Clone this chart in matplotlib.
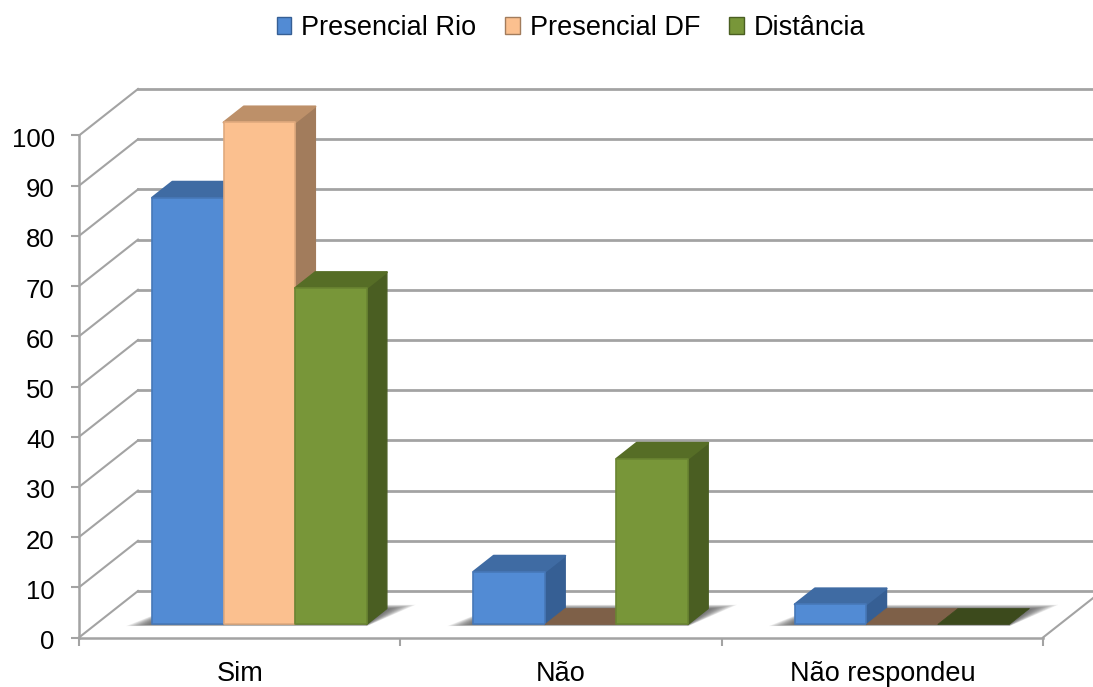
import matplotlib
matplotlib.use("Agg")
import matplotlib.pyplot as plt
from matplotlib.patches import Polygon
from matplotlib.transforms import ScaledTranslation

categories = ["Sim", "Não", "Não respondeu"]
series_names = ["Presencial Rio", "Presencial DF", "Distância"]
presencial_rio = [85, 10.5, 4]
presencial_df = [100, 0, 0]
distancia = [67, 33, 0]
y_ticks = list(range(0, 101, 10))

plt.rcParams['font.family'] = ['Liberation Sans', 'DejaVu Sans']

FRONT = ["#528bd4", "#fbc08f", "#789639"]
EDGE = ["#4778b8", "#e0aa7e", "#6a8532"]
TOP = ["#3f6ba3", "#bd9069", "#566d26"]
SIDE = ["#365f94", "#a27c5c", "#4a5e22"]
FLAT = ["#365f94", "#7e6048", "#3c4a1c"]
GRID = "#a3a3a3"

# depth of the 3d box, in category units / value units
DEPTH_X = 59 / 321.3
DEPTH_Y = 46.5 / 5.02
BAR_W = 0.2225
BAR_GAP = 0.176
D_FRONT = 0.28
D_BACK = 0.624


def proj(x, v, d):
    return (x + d * DEPTH_X, v + d * DEPTH_Y)


def draw_shadow(ax, x0, x1, z):
    # soft floor shadow made of stacked see-through polygons
    layers = 16
    for i in range(layers):
        t = (layers - i) / layers
        grow = 0.075 * t
        near = D_FRONT - 0.035 * t
        far = D_BACK + 0.1 * t - 0.02
        pts = [proj(x0 - grow, 0, near), proj(x1 + grow * 0.1, 0, near),
               proj(x1 + grow, 0, far), proj(x0 + grow * 0.1, 0, far)]
        ax.add_patch(Polygon(pts, closed=True, fc="#3a3a3a", ec="none", alpha=0.07,
                             zorder=z, clip_on=False))


def draw_bar(ax, x, value, idx, z):
    if value == 0:
        pts = [proj(x, 0, D_FRONT), proj(x + BAR_W, 0, D_FRONT),
               proj(x + BAR_W, 0, D_BACK), proj(x, 0, D_BACK)]
        ax.add_patch(Polygon(pts, closed=True, fc=FLAT[idx], ec=FLAT[idx], lw=0.5,
                             zorder=z, clip_on=False))
        return
    side = [proj(x + BAR_W, 0, D_FRONT), proj(x + BAR_W, value, D_FRONT),
            proj(x + BAR_W, value, D_BACK), proj(x + BAR_W, 0, D_BACK)]
    top = [proj(x, value, D_FRONT), proj(x + BAR_W, value, D_FRONT),
           proj(x + BAR_W, value, D_BACK), proj(x, value, D_BACK)]
    ax.add_patch(Polygon(side, closed=True, fc=SIDE[idx], ec=SIDE[idx], lw=1,
                         joinstyle="round", zorder=z, clip_on=False))
    ax.add_patch(Polygon(top, closed=True, fc=TOP[idx], ec=TOP[idx], lw=1.5,
                         joinstyle="round", zorder=z, clip_on=False))
    front = ax.bar(x + D_FRONT * DEPTH_X, value, width=BAR_W, bottom=D_FRONT * DEPTH_Y,
                   align="edge", color=FRONT[idx], edgecolor=EDGE[idx], linewidth=1.2,
                   zorder=z, clip_on=False)
    front[0].set_joinstyle("round")


fig = plt.figure(figsize=(10.93, 6.87), dpi=100)
ax = fig.add_axes([79 / 1093, 1 - 637.5 / 687, (1043 - 79) / 1093, 502 / 687])
ax.set_xlim(0, len(categories))
ax.set_ylim(0, 100)
ax.patch.set_alpha(0)

# walls
far_right = len(categories) + DEPTH_X
for v in y_ticks:
    ax.plot([0, DEPTH_X], [v, v + DEPTH_Y], color=GRID, lw=1.5, zorder=1, clip_on=False)
    ax.plot([DEPTH_X, far_right], [v + DEPTH_Y, v + DEPTH_Y], color=GRID, lw=2, zorder=1,
            clip_on=False)
ax.plot([len(categories), far_right], [0, DEPTH_Y], color=GRID, lw=1.5, zorder=1, clip_on=False)

all_series = [presencial_rio, presencial_df, distancia]
z = 3
for c in range(len(categories)):
    x0 = c + BAR_GAP
    draw_shadow(ax, x0, x0 + BAR_W * len(all_series), 2)
    for s, values in enumerate(all_series):
        draw_bar(ax, x0 + s * BAR_W, values[c], s, z)
        z += 1

for name in ["top", "right"]:
    ax.spines[name].set_visible(False)
for name in ["left", "bottom"]:
    ax.spines[name].set_color(GRID)
    ax.spines[name].set_linewidth(1.8)

ax.set_yticks(y_ticks)
ax.tick_params(axis="y", length=6, width=1.5, color=GRID, labelsize=18.5, pad=11.5, labelcolor="black")
label_shift = ScaledTranslation(0, -2 / 100, fig.dpi_scale_trans)
for lab in ax.get_yticklabels():
    lab.set_transform(lab.get_transform() + label_shift)

ax.set_xticks(range(len(categories) + 1))
ax.set_xticklabels([])
ax.set_xticks([c + 0.5 for c in range(len(categories))], minor=True)
ax.set_xticklabels(categories, minor=True, fontsize=19.5)
ax.tick_params(axis="x", which="major", length=6, width=1.5, color=GRID)
ax.tick_params(axis="x", which="minor", length=0, pad=17)

handles = [Polygon([(0, 0), (1, 0), (1, 1), (0, 1)], closed=True, fc=FRONT[i], ec=SIDE[i], lw=1)
           for i in range(3)]
fig.legend(handles, series_names, ncol=3, loc="center", bbox_to_anchor=(571 / 1093, 1 - 28 / 687),
           frameon=False, fontsize=19.5, handlelength=0.55, handleheight=0.55, handletextpad=0.35,
           columnspacing=1.08, borderpad=0)

fig.savefig("out.png", dpi=100)
